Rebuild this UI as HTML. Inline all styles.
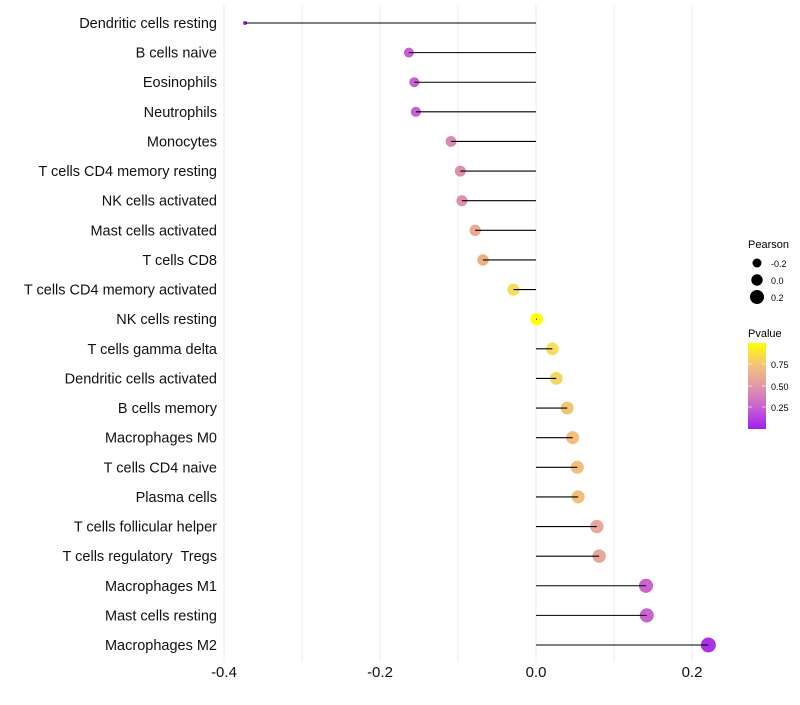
<!DOCTYPE html>
<html><head><meta charset="utf-8"><style>
body{margin:0;background:#fff;font-family:"Liberation Sans",sans-serif}
svg text{font-family:"Liberation Sans",sans-serif;white-space:pre}
</style></head><body>
<svg id="chart" width="800" height="700">
<defs><linearGradient id="pg" x1="0" y1="1" x2="0" y2="0">
<stop offset="0" stop-color="#A020F0"/><stop offset="0.25" stop-color="#C860D0"/>
<stop offset="0.5" stop-color="#E098A8"/><stop offset="0.75" stop-color="#F3C478"/>
<stop offset="1" stop-color="#FFFF00"/></linearGradient></defs>
<g id="grid"></g><g id="marks"></g><g id="ylab"></g><g id="xlab"></g>
<g>
<text x="748" y="248" font-size="11">Pearson</text>
<circle cx="757" cy="263" r="4.5" fill="#000"/>
<text x="771" y="267" font-size="9">-0.2</text>
<circle cx="757" cy="280" r="5.7" fill="#000"/>
<text x="771" y="284" font-size="9">0.0</text>
<circle cx="757" cy="297" r="7" fill="#000"/>
<text x="771" y="301" font-size="9">0.2</text>
<text x="748" y="337" font-size="11">Pvalue</text>
<rect x="748" y="343" width="18" height="86" fill="url(#pg)"/>
<g stroke="#fff" stroke-opacity="0.6"><line x1="748" x2="752" y1="364" y2="364"/><line x1="762" x2="766" y1="364" y2="364"/><line x1="748" x2="752" y1="386" y2="386"/><line x1="762" x2="766" y1="386" y2="386"/><line x1="748" x2="752" y1="407" y2="407"/><line x1="762" x2="766" y1="407" y2="407"/></g>
<text x="771" y="368" font-size="9">0.75</text>
<text x="771" y="390" font-size="9">0.50</text>
<text x="771" y="411" font-size="9">0.25</text>
</g>
</svg>
<script>
const cells=["Dendritic cells resting","B cells naive","Eosinophils","Neutrophils","Monocytes","T cells CD4 memory resting","NK cells activated","Mast cells activated","T cells CD8","T cells CD4 memory activated","NK cells resting","T cells gamma delta","Dendritic cells activated","B cells memory","Macrophages M0","T cells CD4 naive","Plasma cells","T cells follicular helper","T cells regulatory  Tregs","Macrophages M1","Mast cells resting","Macrophages M2"];
const pearson=[-0.373,-0.163,-0.156,-0.154,-0.109,-0.097,-0.095,-0.078,-0.068,-0.029,0.001,0.021,0.026,0.040,0.047,0.053,0.054,0.078,0.081,0.141,0.142,0.221];
const pvalue=[0.0,0.22,0.22,0.22,0.4,0.43,0.45,0.6,0.66,0.9,1.0,0.9,0.86,0.75,0.73,0.73,0.73,0.56,0.56,0.24,0.24,0.06];
const xticks=[-0.4,-0.2,0.0,0.2];
const xminor=[-0.3,-0.1,0.1];
const sx=v=>536+v*780;
const sy=i=>23+i*(622/21);
const stops=[[0,[160,32,240]],[0.22,[200,96,208]],[0.4,[220,136,176]],[0.56,[232,166,158]],[0.66,[237,176,128]],[0.75,[243,196,120]],[0.9,[245,222,90]],[1,[255,255,0]]];
function col(p){for(let k=1;k<stops.length;k++){if(p<=stops[k][0]){const a=stops[k-1],b=stops[k],t=(p-a[0])/(b[0]-a[0]);return 'rgb('+a[1].map((c,j)=>Math.round(c+(b[1][j]-c)*t)).join(',')+')';}}return 'rgb(255,255,0)';}
const NS='http://www.w3.org/2000/svg';
function mk(t,a,p){const e=document.createElementNS(NS,t);for(const k in a)e.setAttribute(k,a[k]);p.appendChild(e);return e;}
const g=document.getElementById('grid'),m=document.getElementById('marks'),yl=document.getElementById('ylab'),xl=document.getElementById('xlab');
xticks.concat(xminor).forEach(v=>{const l=mk('line',{x1:sx(v),x2:sx(v),y1:5,y2:662,stroke:'#ebebeb','stroke-width':1},g);

});
xticks.forEach(v=>{const t=mk('text',{x:sx(v),y:677,'font-size':15,'text-anchor':'middle',fill:'#111'},xl);t.textContent=v.toFixed(1);

});
const pmin=Math.min(...pearson),pmax=Math.max(...pearson);
cells.forEach((c,i)=>{const y=sy(i);
const t=mk('text',{x:217,y:y+5,'font-size':14.5,'text-anchor':'end',fill:'#111'},yl);t.textContent=c;


const tt=(pearson[i]-pmin)/(pmax-pmin);
const r=Math.max(2,1.25*(1+5*Math.sqrt(tt)));
const d=mk('circle',{cx:sx(pearson[i]),cy:y,r:r,fill:col(pvalue[i])},m);


const l=mk('line',{x1:sx(0),x2:sx(pearson[i]),y1:y,y2:y,stroke:'#000','stroke-width':1.1},m);

});
</script>
</body></html>
